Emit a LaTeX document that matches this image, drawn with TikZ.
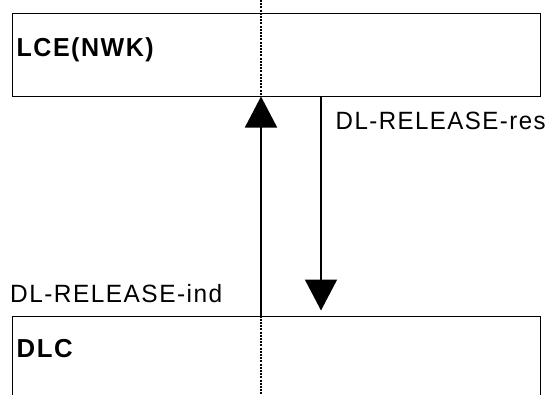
\documentclass[tikz,border=0pt]{standalone}
\usepackage{fontspec}
\setmainfont{Liberation Sans}
\newfontfamily\regfont[LetterSpace=6]{Liberation Sans}
\newfontfamily\boldfnt[LetterSpace=6]{Liberation Sans Bold}
\newcommand\fitw[2]{\resizebox{#1}{\height}{#2}}
\usetikzlibrary{arrows.meta}
\tikzset{
  boxst/.style={draw, line width=1pt, rectangle, inner sep=0pt},
  msg/.style={line width=1.8pt, -{Triangle[width=32pt,length=31pt]}},
  life/.style={line width=1.3pt, dash pattern=on 2pt off 1.2pt},
  lbl/.style={anchor=base west, inner sep=0pt, font=\regfont\fontsize{25}{30}\selectfont},
  blbl/.style={anchor=base west, inner sep=0pt, font=\boldfnt\fontsize{26}{30}\selectfont}
}
\begin{document}
\begin{tikzpicture}[x=1pt,y=-1pt]
\useasboundingbox (0,0) rectangle (549,394);
\clip (0,0) rectangle (549,394);
\node[boxst, minimum width=528pt, minimum height=83pt] (lce) at (276,54.5) {};
\node[boxst, minimum width=528pt, minimum height=120pt] (dlc) at (276,376) {};
\coordinate (ltop) at (261,0);
\coordinate (lbot) at (261,394);
\coordinate (dx) at (321,0);
\draw[life] (ltop) -- (ltop |- lce.south);
\draw[life] (lbot |- dlc.north) -- (lbot);
\draw[msg] (lbot |- dlc.north) -- (ltop |- lce.south);
\draw[msg, shorten >=5pt] (dx |- lce.south) -- (dx |- dlc.north);
\node[blbl] (t1) at (16.5,56) {\fitw{137pt}{LCE(NWK)}};
\node[lbl] (t2) at (335.5,129) {\fitw{210pt}{DL-RELEASE-res}};
\node[lbl] (t3) at (10,302) {\fitw{212pt}{DL-RELEASE-ind}};
\node[blbl] (t4) at (16.5,357) {\fitw{56pt}{DLC}};
\end{tikzpicture}
\end{document}
